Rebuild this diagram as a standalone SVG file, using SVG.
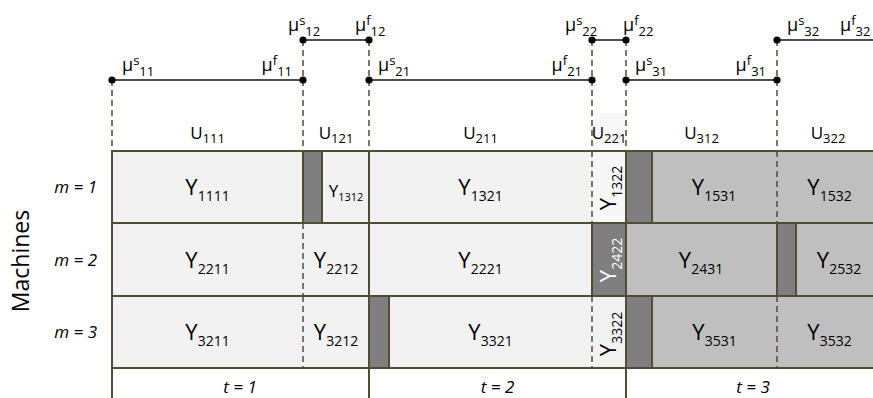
<svg xmlns="http://www.w3.org/2000/svg" width="873" height="398" viewBox="0 0 873 398">
  <style>
    text { font-family: "Open Sans", "Noto Sans", "Liberation Sans", sans-serif; fill: #000; }
    .mu { font-size: 18px; }
    .ss { font-size: 13px; }
    .u { font-size: 17px; text-anchor: middle; }
    .us { font-size: 13px; }
    .y { font-size: 22px; text-anchor: middle; }
    .ys { font-size: 14px; }
    .ysm { font-size: 17px; text-anchor: middle; }
    .ysms { font-size: 11px; }
    .it { font-size: 17px; font-style: italic; }
    .wt { fill: #ffffff; }
    .light { fill: #f2f2f2; }
    .mid { fill: #bfbfbf; }
    .dark { fill: #7f7f7f; }
    .grid { stroke: #524c35; stroke-width: 2; fill: none; }
    .dash { stroke: #524c35; stroke-width: 1.5; stroke-dasharray: 6 4; fill: none; }
    .tl { stroke: #111; stroke-width: 1.6; fill: none; }
    .pt { fill: #000; }
  </style>

  <rect x="0" y="0" width="873" height="398" fill="#ffffff"/>

  <!-- time-window bars with start/finish markers -->
  <g id="timeline">
    <g class="connectors">
      <line class="tl" x1="112" y1="80" x2="303" y2="80"/>
      <line class="tl" x1="303" y1="40" x2="369" y2="40"/>
      <line class="tl" x1="369" y1="80" x2="592" y2="80"/>
      <line class="tl" x1="592" y1="40" x2="626" y2="40"/>
      <line class="tl" x1="626" y1="80" x2="777" y2="80"/>
      <line class="tl" x1="777" y1="40" x2="873" y2="40"/>
      <rect x="592" y="113" width="34" height="38" fill="#f8f8f8"/>
      <line class="dash" x1="112" y1="80" x2="112" y2="151"/>
      <line class="dash" x1="303" y1="40" x2="303" y2="151"/>
      <line class="dash" x1="369" y1="40" x2="369" y2="151"/>
      <line class="dash" x1="592" y1="40" x2="592" y2="151"/>
      <line class="dash" x1="626" y1="40" x2="626" y2="151"/>
      <line class="dash" x1="777" y1="40" x2="777" y2="151"/>
    </g>
    <g class="points">
      <circle class="pt" cx="112" cy="80" r="3.6"/>
      <circle class="pt" cx="303" cy="80" r="3.6"/>
      <circle class="pt" cx="303" cy="40" r="3.6"/>
      <circle class="pt" cx="369" cy="40" r="3.6"/>
      <circle class="pt" cx="369" cy="80" r="3.6"/>
      <circle class="pt" cx="592" cy="80" r="3.6"/>
      <circle class="pt" cx="592" cy="40" r="3.6"/>
      <circle class="pt" cx="626" cy="40" r="3.6"/>
      <circle class="pt" cx="626" cy="80" r="3.6"/>
      <circle class="pt" cx="777" cy="80" r="3.6"/>
      <circle class="pt" cx="777" cy="40" r="3.6"/>
    </g>
    <g class="labels">
      <text class="mu" x="122" y="71">μ<tspan class="ss" dy="-6">s</tspan><tspan class="ss" dy="11">11</tspan></text>
      <text class="mu" x="292" y="71" text-anchor="end">μ<tspan class="ss" dy="-6">f</tspan><tspan class="ss" dy="11">11</tspan></text>
      <text class="mu" x="288" y="31">μ<tspan class="ss" dy="-6">s</tspan><tspan class="ss" dy="11">12</tspan></text>
      <text class="mu" x="355" y="31">μ<tspan class="ss" dy="-6">f</tspan><tspan class="ss" dy="11">12</tspan></text>
      <text class="mu" x="378" y="71">μ<tspan class="ss" dy="-6">s</tspan><tspan class="ss" dy="11">21</tspan></text>
      <text class="mu" x="582" y="71" text-anchor="end">μ<tspan class="ss" dy="-6">f</tspan><tspan class="ss" dy="11">21</tspan></text>
      <text class="mu" x="565" y="31">μ<tspan class="ss" dy="-6">s</tspan><tspan class="ss" dy="11">22</tspan></text>
      <text class="mu" x="623" y="31">μ<tspan class="ss" dy="-6">f</tspan><tspan class="ss" dy="11">22</tspan></text>
      <text class="mu" x="635" y="71">μ<tspan class="ss" dy="-6">s</tspan><tspan class="ss" dy="11">31</tspan></text>
      <text class="mu" x="766" y="71" text-anchor="end">μ<tspan class="ss" dy="-6">f</tspan><tspan class="ss" dy="11">31</tspan></text>
      <text class="mu" x="787" y="31">μ<tspan class="ss" dy="-6">s</tspan><tspan class="ss" dy="11">32</tspan></text>
      <text class="mu" x="840" y="31">μ<tspan class="ss" dy="-6">f</tspan><tspan class="ss" dy="11">32</tspan></text>
    </g>
  </g>

  <!-- interval headers -->
  <g id="intervals">
    <text class="u" x="207.5" y="139">U<tspan class="us" dy="4">111</tspan></text>
    <text class="u" x="336" y="139">U<tspan class="us" dy="4">121</tspan></text>
    <text class="u" x="480.5" y="139">U<tspan class="us" dy="4">211</tspan></text>
    <text class="u" x="609" y="139">U<tspan class="us" dy="4">221</tspan></text>
    <text class="u" x="701.5" y="139">U<tspan class="us" dy="4">312</tspan></text>
    <text class="u" x="828" y="139">U<tspan class="us" dy="4">322</tspan></text>
  </g>

  <!-- machine rows -->
  <g id="axis">
    <text class="it" x="97" y="193" text-anchor="end">m = 1</text>
    <text class="it" x="97" y="266" text-anchor="end">m = 2</text>
    <text class="it" x="97" y="338" text-anchor="end">m = 3</text>
    <text transform="translate(29 261) rotate(-90)" font-size="23" text-anchor="middle">Machines</text>
  </g>

  <!-- cell fills -->
  <g id="cells">
    <rect class="light" x="112" y="151" width="514" height="217"/>
    <rect x="592" y="151" width="34" height="72" fill="#f7f7f7"/>
    <rect class="mid" x="626" y="151" width="247" height="217"/>
    <rect class="dark" x="303" y="151" width="19" height="72"/>
    <rect class="dark" x="626" y="151" width="26" height="72"/>
    <rect class="dark" x="592" y="223" width="34" height="73"/>
    <rect class="dark" x="777" y="223" width="19" height="73"/>
    <rect class="dark" x="369" y="296" width="20" height="72"/>
    <rect class="dark" x="626" y="296" width="26" height="72"/>
  </g>

  <!-- grid lines -->
  <g id="grid">
    <line class="grid" x1="112" y1="151" x2="873" y2="151"/>
    <line class="grid" x1="112" y1="223" x2="873" y2="223"/>
    <line class="grid" x1="112" y1="296" x2="873" y2="296"/>
    <line class="grid" x1="112" y1="368" x2="873" y2="368"/>
    <line class="grid" x1="112" y1="150" x2="112" y2="398"/>
    <line class="grid" x1="369" y1="150" x2="369" y2="398"/>
    <line class="grid" x1="626" y1="150" x2="626" y2="398"/>
    <!-- row 1 -->
    <line class="grid" x1="303" y1="151" x2="303" y2="223"/>
    <line class="grid" x1="322" y1="151" x2="322" y2="223"/>
    <line class="grid" x1="652" y1="151" x2="652" y2="223"/>
    <line class="dash" x1="592" y1="151" x2="592" y2="223"/>
    <line class="dash" x1="777" y1="151" x2="777" y2="223"/>
    <!-- row 2 -->
    <line class="grid" x1="592" y1="223" x2="592" y2="296"/>
    <line class="grid" x1="777" y1="223" x2="777" y2="296"/>
    <line class="grid" x1="796" y1="223" x2="796" y2="296"/>
    <line class="dash" x1="303" y1="223" x2="303" y2="296"/>
    <!-- row 3 -->
    <line class="grid" x1="389" y1="296" x2="389" y2="368"/>
    <line class="grid" x1="652" y1="296" x2="652" y2="368"/>
    <line class="dash" x1="303" y1="296" x2="303" y2="368"/>
    <line class="dash" x1="592" y1="296" x2="592" y2="368"/>
    <line class="dash" x1="777" y1="296" x2="777" y2="368"/>
  </g>

  <!-- cell labels -->
  <g id="labels">
    <text class="y" x="207.5" y="195">Y<tspan class="ys" dy="6">1111</tspan></text>
    <text class="ysm" x="346" y="197">Y<tspan class="ysms" dy="4">1312</tspan></text>
    <text class="y" x="480.5" y="195">Y<tspan class="ys" dy="6">1321</tspan></text>
    <text class="y" transform="translate(608 188) rotate(-90)" x="0" y="8">Y<tspan class="ys" dy="6">1322</tspan></text>
    <text class="y" x="714" y="195">Y<tspan class="ys" dy="6">1531</tspan></text>
    <text class="y" x="829.5" y="195">Y<tspan class="ys" dy="6">1532</tspan></text>

    <text class="y" x="207.5" y="268">Y<tspan class="ys" dy="6">2211</tspan></text>
    <text class="y" x="336" y="268">Y<tspan class="ys" dy="6">2212</tspan></text>
    <text class="y" x="480.5" y="268">Y<tspan class="ys" dy="6">2221</tspan></text>
    <text class="y wt" transform="translate(608 260) rotate(-90)" x="0" y="8">Y<tspan class="ys" dy="6">2422</tspan></text>
    <text class="y" x="701" y="268">Y<tspan class="ys" dy="6">2431</tspan></text>
    <text class="y" x="839" y="268">Y<tspan class="ys" dy="6">2532</tspan></text>

    <text class="y" x="207.5" y="340">Y<tspan class="ys" dy="6">3211</tspan></text>
    <text class="y" x="336" y="340">Y<tspan class="ys" dy="6">3212</tspan></text>
    <text class="y" x="490.5" y="340">Y<tspan class="ys" dy="6">3321</tspan></text>
    <text class="y" transform="translate(608 334) rotate(-90)" x="0" y="8">Y<tspan class="ys" dy="6">3322</tspan></text>
    <text class="y" x="714.5" y="340">Y<tspan class="ys" dy="6">3531</tspan></text>
    <text class="y" x="829.5" y="340">Y<tspan class="ys" dy="6">3532</tspan></text>
  </g>

  <!-- period labels -->
  <g id="periods">
    <text class="it" x="240" y="393" text-anchor="middle">t = 1</text>
    <text class="it" x="497.5" y="393" text-anchor="middle">t = 2</text>
    <text class="it" x="753" y="393" text-anchor="middle">t = 3</text>
  </g>
</svg>
